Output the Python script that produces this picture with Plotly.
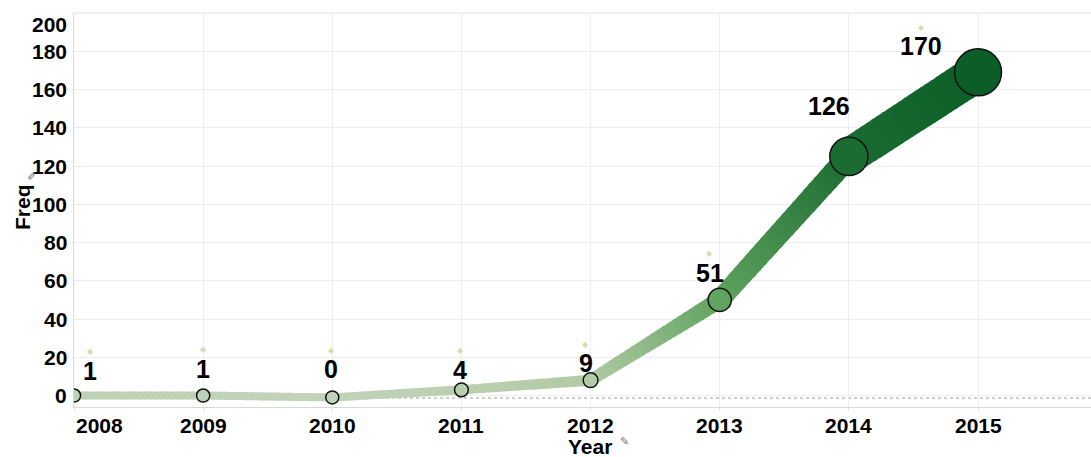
import plotly.graph_objects as go

# ---------------- data ----------------
years = [2008, 2009, 2010, 2011, 2012, 2013, 2014, 2015]
freq = [1, 1, 0, 4, 9, 51, 126, 170]            # label values
y_pos = [0, 0, -1, 3, 8, 50, 125, 169]          # plotted heights of the marks
ref_line = -1.3                                  # dotted reference line
y_ticks = [0, 20, 40, 60, 80, 100, 120, 140, 160, 180, 200]
x_ticks = years
x_title = "Year"
y_title = "Freq"

# ---------------- styling ----------------
W, H = 1091, 457
ML, MR, MT, MB = 74, 0, 13, 50
XR = [2008, 2015.875]
YR = [-6, 200]
FONT = "Liberation Sans, Arial, sans-serif"

# colour ramp keyed by Freq
ramp_v = [0, 9, 51, 126, 170]
ramp_c = [(193, 211, 185), (178, 202, 166), (95, 163, 95), (27, 108, 50), (11, 94, 39)]


def colour(v):
    if v <= ramp_v[0]:
        c = ramp_c[0]
    elif v >= ramp_v[-1]:
        c = ramp_c[-1]
    else:
        for i in range(len(ramp_v) - 1):
            if ramp_v[i] <= v <= ramp_v[i + 1]:
                t = (v - ramp_v[i]) / (ramp_v[i + 1] - ramp_v[i])
                a, b = ramp_c[i], ramp_c[i + 1]
                c = tuple(a[j] + (b[j] - a[j]) * t for j in range(3))
                break
    return "rgb(%d,%d,%d)" % tuple(round(x) for x in c)


# segment widths (start, end) in px
seg_w = [(8, 8), (8, 8), (8, 9), (9, 11), (12, 17), (20, 23), (36, 38)]

# label offsets in px relative to the point (dx right, dy down)
lab_dx = [16, 0, -1, -1, -5, -10, -20, -57]
lab_dy = [-25, -27, -28, -20, -17, -27, -50, -26]
show_diamond = [True, True, True, True, True, True, False, True]

fig = go.Figure()

# variable-width, gradient-coloured ribbon
N = 24
for k in range(len(years) - 1):
    x0, x1 = years[k], years[k + 1]
    y0, y1 = y_pos[k], y_pos[k + 1]
    v0, v1 = freq[k], freq[k + 1]
    w0, w1 = seg_w[k]
    for i in range(N):
        ta = i / N
        tb = min(1.0, (i + 1) / N + 0.012)
        tm = (i + 0.5) / N
        fig.add_trace(go.Scatter(
            x=[x0 + (x1 - x0) * ta, x0 + (x1 - x0) * tb],
            y=[y0 + (y1 - y0) * ta, y0 + (y1 - y0) * tb],
            mode="lines",
            line=dict(color=colour(v0 + (v1 - v0) * tm), width=w0 + (w1 - w0) * tm),
            hoverinfo="skip", showlegend=False,
        ))

# circles sized and coloured by Freq
fig.add_trace(go.Scatter(
    x=years, y=y_pos, mode="markers", cliponaxis=True,
    marker=dict(size=[13 + 0.2 * f for f in freq],
                color=[colour(f) for f in freq],
                line=dict(color="#111111", width=1.5), opacity=1),
    text=[str(f) for f in freq], hovertemplate="%{x}: %{text}<extra></extra>",
    showlegend=False,
))

ann = []
# data labels and their small diamond anchors
for i, yr in enumerate(years):
    ann.append(dict(x=yr, y=y_pos[i], xref="x", yref="y", text=str(freq[i]),
                    showarrow=False, xshift=lab_dx[i], yshift=-lab_dy[i],
                    font=dict(family=FONT, size=25, color="#000000", weight="bold")))
    if show_diamond[i]:
        ann.append(dict(x=yr, y=y_pos[i], xref="x", yref="y", text="◆",
                        showarrow=False, xshift=lab_dx[i], yshift=-lab_dy[i] + 19,
                        font=dict(family="DejaVu Sans", size=8, color="#dcdab4")))

# y tick labels
for t in y_ticks:
    ann.append(dict(x=0, y=t, xref="paper", yref="y", text=str(t), showarrow=False,
                    xanchor="right", yanchor="middle", xshift=-5,
                    yshift=-11 if t == y_ticks[-1] else 0,
                    font=dict(family=FONT, size=21, color="#000000", weight="bold")))
# x tick labels
for i, t in enumerate(x_ticks):
    ann.append(dict(x=t, y=0, xref="x", yref="paper", text=str(t), showarrow=False,
                    xanchor="center", yanchor="top", yshift=-5,
                    xshift=25 if i == 0 else 0,
                    font=dict(family=FONT, size=21, color="#000000", weight="bold")))

# axis titles with pin glyphs
ann.append(dict(x=(590 - ML) / (W - ML - MR), y=-(446 - (H - MB)) / (H - MT - MB),
                xref="paper", yref="paper", text=x_title, showarrow=False,
                xanchor="center", yanchor="middle",
                font=dict(family=FONT, size=21, color="#000000", weight="bold")))
ann.append(dict(x=(624 - ML) / (W - ML - MR), y=-(450 - (H - MB)) / (H - MT - MB),
                xref="paper", yref="paper", text="✎", showarrow=False,
                font=dict(family="DejaVu Sans", size=11, color="#7a7a7a")))
ann.append(dict(x=-(ML - 22) / (W - ML - MR), y=((H - MB) - 207) / (H - MT - MB),
                xref="paper", yref="paper", text=y_title, showarrow=False, textangle=-90,
                xanchor="center", yanchor="middle",
                font=dict(family=FONT, size=21, color="#000000", weight="bold")))
ann.append(dict(x=-(ML - 24) / (W - ML - MR), y=((H - MB) - 176) / (H - MT - MB),
                xref="paper", yref="paper", text="✎", showarrow=False, textangle=-90,
                font=dict(family="DejaVu Sans", size=11, color="#7a7a7a")))

fig.update_layout(
    width=W, height=H,
    margin=dict(l=ML, r=MR, t=MT, b=MB, pad=0),
    paper_bgcolor="white", plot_bgcolor="white",
    annotations=ann,
    shapes=[
        dict(type="line", xref="paper", yref="y", x0=0, x1=1, y0=ref_line, y1=ref_line,
             line=dict(color="#9a9a9a", width=1, dash="dot"), layer="below"),
        dict(type="line", xref="paper", yref="paper", x0=0, x1=1, y0=1, y1=1,
             line=dict(color="#e3e3e3", width=1), layer="below"),
    ],
    xaxis=dict(range=XR, tick0=2008, dtick=1, showgrid=True, gridcolor="#ededed",
               gridwidth=1, showticklabels=False, zeroline=False, showline=True,
               linecolor="#d8d8d8", linewidth=1, ticks="outside", ticklen=3,
               tickcolor="#e6e6e6", fixedrange=True),
    yaxis=dict(range=YR, tick0=0, dtick=20, showgrid=True, gridcolor="#ededed",
               gridwidth=1, showticklabels=False, zeroline=False, showline=True,
               linecolor="#d8d8d8", linewidth=1, fixedrange=True),
)

fig.write_html("out.html",
               config={"displayModeBar": False},
               post_script="document.body.style.margin='0';"
                           "document.body.style.overflow='hidden';")
